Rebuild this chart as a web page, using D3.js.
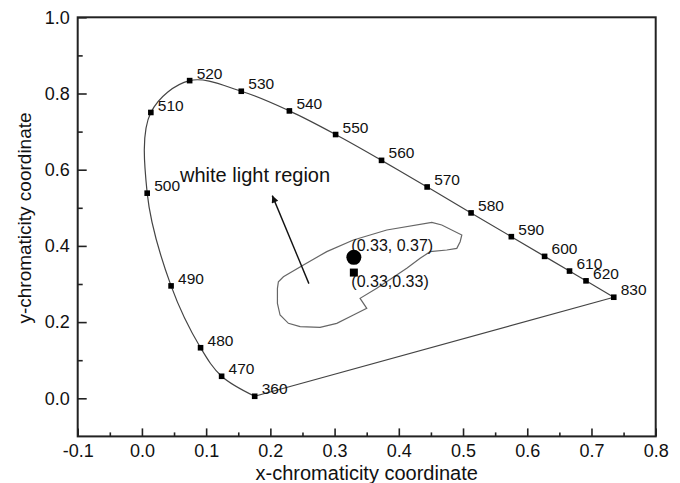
<!DOCTYPE html>
<html>
<head>
<meta charset="utf-8">
<script src="https://cdn.jsdelivr.net/npm/d3@7"></script>
<style>
  body { margin: 0; background: #fff; }
  svg text { font-family: "Liberation Sans", Arial, sans-serif; fill: #111; }
</style>
</head>
<body>
<svg id="chart" width="680" height="483"></svg>
<script>
const width = 680, height = 483;

// spectral locus points (wavelength nm, x, y)
const wavelengths = [360, 470, 480, 490, 500, 510, 520, 530, 540, 550, 560, 570, 580, 590, 600, 610, 620, 830];
const locusX = [0.1756, 0.1241, 0.0913, 0.0454, 0.0082, 0.0139, 0.0743, 0.1547, 0.2296, 0.3016, 0.3731, 0.4441, 0.5125, 0.5752, 0.6270, 0.6658, 0.6915, 0.7347];
const locusY = [0.0053, 0.0578, 0.1327, 0.2950, 0.5384, 0.7502, 0.8338, 0.8059, 0.7543, 0.6923, 0.6245, 0.5547, 0.4866, 0.4242, 0.3725, 0.3340, 0.3083, 0.2653];

// outline of the white light region
const regionX = [0.211, 0.2125, 0.2203, 0.2515, 0.2878, 0.3293, 0.3813, 0.4514, 0.4669, 0.4981, 0.4955, 0.4903, 0.4747, 0.4488, 0.4332, 0.4124, 0.3891, 0.3657, 0.3397, 0.3501, 0.3293, 0.3034, 0.2774, 0.2463, 0.2281, 0.2151, 0.211];
const regionY = [0.2886, 0.306, 0.319, 0.350, 0.385, 0.4155, 0.4417, 0.4619, 0.4549, 0.4286, 0.4111, 0.3936, 0.3892, 0.3849, 0.3674, 0.3411, 0.3149, 0.2886, 0.2624, 0.2361, 0.2186, 0.1968, 0.1863, 0.188, 0.1968, 0.2186, 0.2493];

// the two marked colour points
const pointLabels = ["(0.33, 0.37)", "(0.33,0.33)"];
const pointX = [0.33, 0.33];
const pointY = [0.37, 0.33];

// arrow tail -> head, and the region caption
const arrowX = [0.260, 0.203];
const arrowY = [0.301, 0.532];
const caption = { text: "white light region", x: 0.0593, y: 0.568 };

const xMajor = [-0.1, 0.0, 0.1, 0.2, 0.3, 0.4, 0.5, 0.6, 0.7, 0.8];
const xMinor = [-0.05, 0.05, 0.15, 0.25, 0.35, 0.45, 0.55, 0.65, 0.75];
const yMajor = [0.0, 0.2, 0.4, 0.6, 0.8, 1.0];
const yMinor = [0.1, 0.3, 0.5, 0.7, 0.9];

const margin = { top: 17.3, right: 24.3, bottom: 46.6, left: 77.7 };

const x = d3.scaleLinear().domain([-0.1, 0.8]).range([margin.left, width - margin.right]);
const y = d3.scaleLinear().domain([-0.1, 1.0]).range([height - margin.bottom, margin.top]);

const svg = d3.select("#chart");
const fmt = d => d.toFixed(1);

// --- axes ---
svg.append("g")
  .attr("transform", `translate(0,${y(-0.1)})`)
  .call(d3.axisBottom(x).tickValues(xMajor).tickFormat(fmt).tickSize(-8).tickPadding(8));
svg.append("g")
  .attr("transform", `translate(0,${y(-0.1)})`)
  .call(d3.axisBottom(x).tickValues(xMinor).tickFormat("").tickSize(-4));

svg.append("g")
  .attr("transform", `translate(${x(-0.1)},0)`)
  .call(d3.axisLeft(y).tickValues(yMajor).tickFormat(fmt).tickSize(-9).tickPadding(8));
svg.append("g")
  .attr("transform", `translate(${x(-0.1)},0)`)
  .call(d3.axisLeft(y).tickValues(yMinor).tickFormat("").tickSize(-5));

svg.selectAll(".domain").remove();
svg.selectAll(".tick line").attr("stroke", "#222").attr("stroke-width", 1.6);
svg.selectAll(".tick text").style("font-size", "18px").attr("fill", "#111");

// frame
svg.append("rect")
  .attr("x", x(-0.1)).attr("y", y(1.0))
  .attr("width", x(0.8) - x(-0.1)).attr("height", y(-0.1) - y(1.0))
  .attr("fill", "none").attr("stroke", "#222").attr("stroke-width", 2);

// axis titles
svg.append("text")
  .attr("x", (x(-0.1) + x(0.8)) / 2).attr("y", 480)
  .attr("text-anchor", "middle")
  .style("font-size", "20px")
  .text("x-chromaticity coordinate");

svg.append("text")
  .attr("transform", "translate(31,218) rotate(-90)")
  .attr("text-anchor", "middle")
  .style("font-size", "19px")
  .text("y-chromaticity coordinate");

// --- spectral locus ---
const locus = wavelengths.map((w, i) => ({ w, x: locusX[i], y: locusY[i] }));

svg.append("path")
  .datum(locus)
  .attr("fill", "none")
  .attr("stroke", "#444")
  .attr("stroke-width", 1.2)
  .attr("d", d3.line().x(d => x(d.x)).y(d => y(d.y)).curve(d3.curveCatmullRom.alpha(0.5)));

// purple line closing the locus
const ends = [locus[locus.length - 1], locus[0]];
svg.append("path")
  .datum(ends)
  .attr("fill", "none")
  .attr("stroke", "#444")
  .attr("stroke-width", 1.2)
  .attr("d", d3.line().x(d => x(d.x)).y(d => y(d.y)));

svg.selectAll(".wl")
  .data(locus)
  .enter()
  .append("rect")
  .attr("class", "wl")
  .attr("x", d => x(d.x) - 2.8)
  .attr("y", d => y(d.y) - 2.8)
  .attr("width", 5.6)
  .attr("height", 5.6)
  .attr("fill", "#000");

svg.selectAll(".wlLabel")
  .data(locus)
  .enter()
  .append("text")
  .attr("class", "wlLabel")
  .attr("x", d => x(d.x) + 7)
  .attr("y", d => y(d.y) - 6)
  .attr("dominant-baseline", "middle")
  .style("font-size", "15.5px")
  .text(d => d.w);

// --- white light region ---
const region = regionX.map((v, i) => [v, regionY[i]]);
svg.append("path")
  .datum(region)
  .attr("fill", "none")
  .attr("stroke", "#666")
  .attr("stroke-width", 1.2)
  .attr("d", d3.line().x(d => x(d[0])).y(d => y(d[1])).curve(d3.curveLinearClosed));

// --- arrow ---
svg.append("defs").append("marker")
  .attr("id", "head")
  .attr("viewBox", "0 0 10 10")
  .attr("refX", 10).attr("refY", 5)
  .attr("markerUnits", "userSpaceOnUse")
  .attr("markerWidth", 10).attr("markerHeight", 7)
  .attr("orient", "auto")
  .append("path")
  .attr("d", "M0,0 L10,5 L0,10 Z")
  .attr("fill", "#111");

svg.append("line")
  .attr("x1", x(arrowX[0])).attr("y1", y(arrowY[0]))
  .attr("x2", x(arrowX[1])).attr("y2", y(arrowY[1]))
  .attr("stroke", "#111")
  .attr("stroke-width", 1.4)
  .attr("marker-end", "url(#head)");

svg.append("text")
  .attr("x", x(caption.x)).attr("y", y(caption.y))
  .style("font-size", "20px")
  .text(caption.text);

// --- marked points ---
svg.append("text")
  .attr("x", x(pointX[0]) - 2.5).attr("y", y(pointY[0]) - 6)
  .style("font-size", "16px")
  .text(pointLabels[0]);
svg.append("text")
  .attr("x", x(pointX[1]) - 2.5).attr("y", y(pointY[1]) + 14.6)
  .style("font-size", "16px")
  .text(pointLabels[1]);

svg.append("circle")
  .attr("cx", x(pointX[0])).attr("cy", y(pointY[0]))
  .attr("r", 7.5)
  .attr("fill", "#000");
svg.append("rect")
  .attr("x", x(pointX[1]) - 4).attr("y", y(pointY[1]) - 4)
  .attr("width", 8).attr("height", 8)
  .attr("fill", "#000");
</script>
</body>
</html>
